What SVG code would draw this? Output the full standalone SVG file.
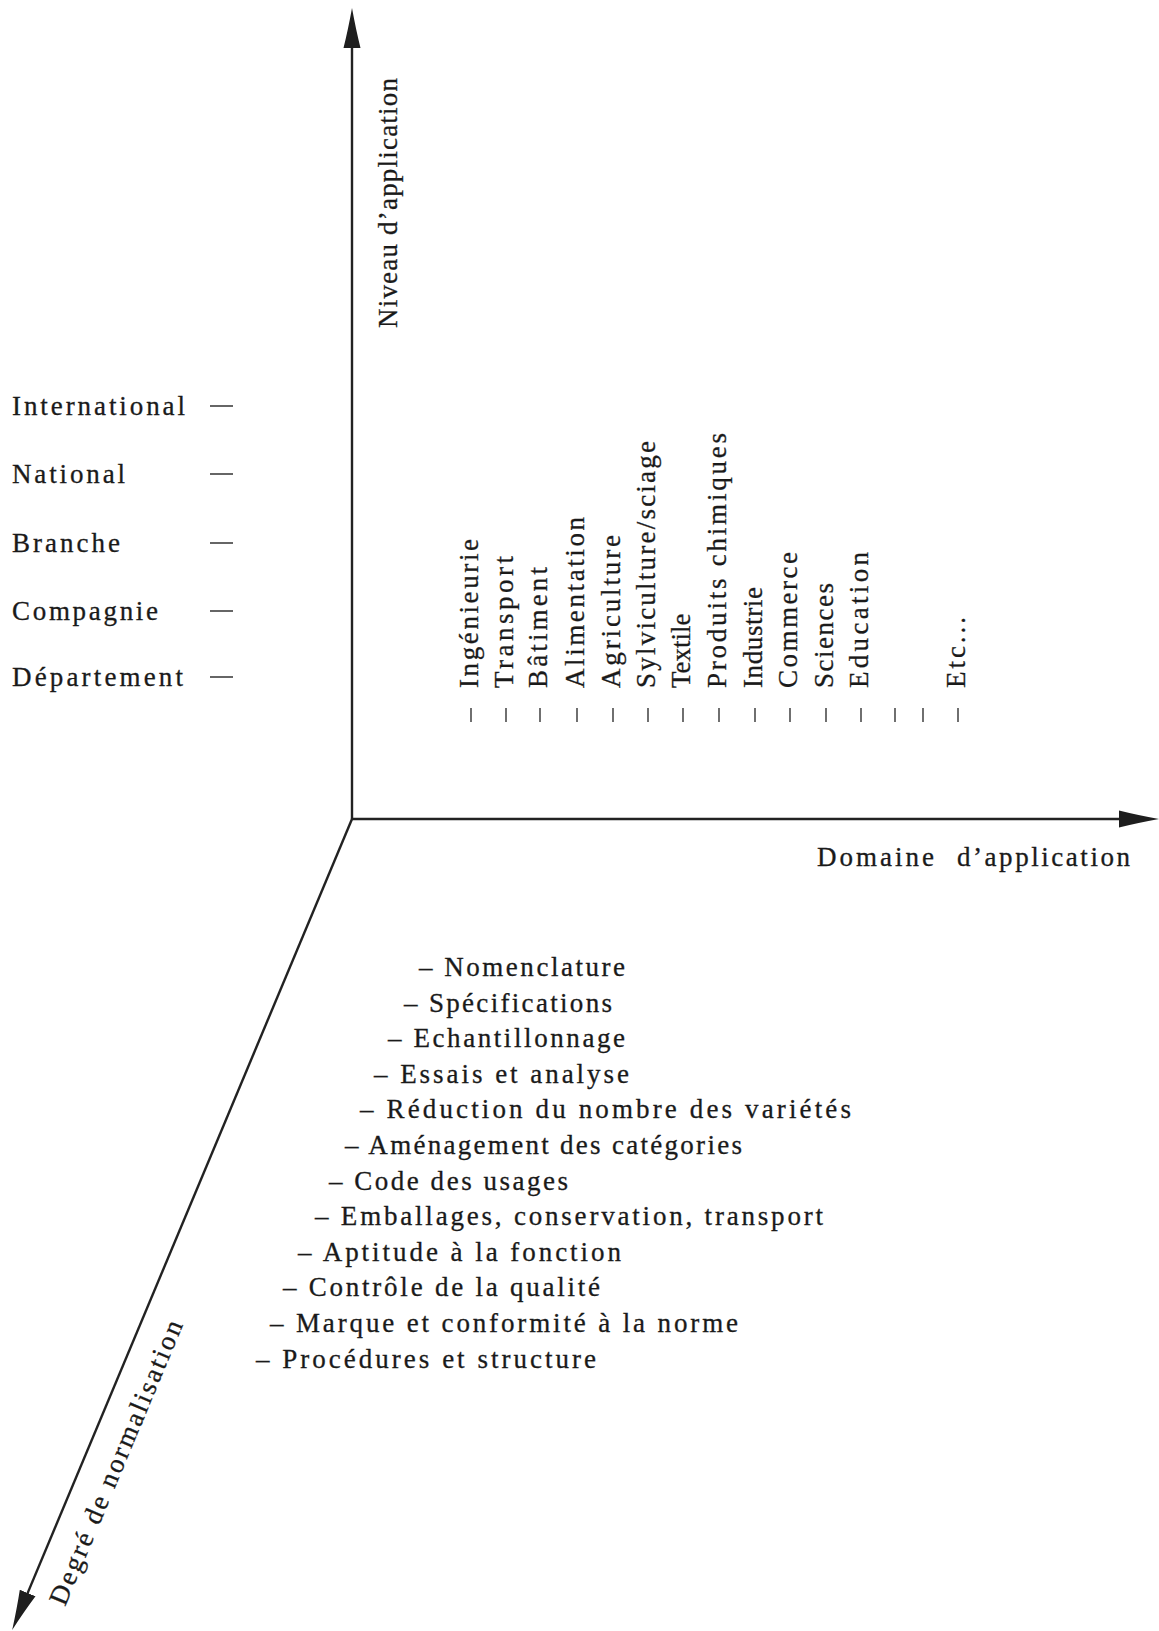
<svg xmlns="http://www.w3.org/2000/svg" width="1159" height="1631" viewBox="0 0 1159 1631">
<defs>
<marker id="arrow" markerUnits="userSpaceOnUse" markerWidth="42" markerHeight="20" refX="18" refY="10" orient="auto">
<path d="M0,1.5 Q18,6 40,10 Q18,14 0,18.5 Z" fill="#1e1e1e"/>
</marker>
<style>
text { font-family: "Liberation Serif", "DejaVu Serif", serif; font-size: 27px; fill: #1a1a1a; stroke: #1a1a1a; stroke-width: 0.3; }
.axis { stroke: #222; stroke-width: 2.4; fill: none; }
.tick { stroke: #333; stroke-width: 1.4; }
.dash { stroke: #333; stroke-width: 1.5; }
</style>
</defs>
<rect width="1159" height="1631" fill="#fff"/>

<g id="connectors">
<line class="axis" x1="352" y1="819" x2="352" y2="30" marker-end="url(#arrow)"/>
<line class="axis" x1="352" y1="819" x2="1137" y2="819" marker-end="url(#arrow)"/>
<line class="axis" x1="352" y1="819" x2="20.7" y2="1609.6" marker-end="url(#arrow)"/>
</g>

<g id="axis-title-niveau"><text transform="translate(397,328) rotate(-90)" textLength="250" lengthAdjust="spacing">Niveau d’application</text></g>
<g id="axis-title-domaine"><text x="817" y="866"><tspan x="817" textLength="117" lengthAdjust="spacing">Domaine</tspan><tspan x="957" textLength="173" lengthAdjust="spacing">d’application</tspan></text></g>
<g id="axis-title-degre"><text transform="translate(65,1607) rotate(-67.27)" textLength="306" lengthAdjust="spacing">Degré de normalisation</text></g>

<g id="level-international"><text x="12" y="415" textLength="173" lengthAdjust="spacing">International</text><line class="dash" x1="210" y1="406" x2="233" y2="406"/></g>
<g id="level-national"><text x="12" y="483" textLength="113" lengthAdjust="spacing">National</text><line class="dash" x1="210" y1="474" x2="233" y2="474"/></g>
<g id="level-branche"><text x="12" y="552" textLength="108" lengthAdjust="spacing">Branche</text><line class="dash" x1="210" y1="543" x2="233" y2="543"/></g>
<g id="level-compagnie"><text x="12" y="620" textLength="146" lengthAdjust="spacing">Compagnie</text><line class="dash" x1="210" y1="611" x2="233" y2="611"/></g>
<g id="level-departement"><text x="12" y="686" textLength="171" lengthAdjust="spacing">Département</text><line class="dash" x1="210" y1="677" x2="233" y2="677"/></g>

<g id="dom-ingenieurie"><text transform="translate(478,688) rotate(-90)" textLength="149" lengthAdjust="spacing">Ingénieurie</text><line class="tick" x1="471" y1="708" x2="471" y2="722"/></g>
<g id="dom-transport"><text transform="translate(513,688) rotate(-90)" textLength="132" lengthAdjust="spacing">Transport</text><line class="tick" x1="506" y1="708" x2="506" y2="722"/></g>
<g id="dom-batiment"><text transform="translate(547,688) rotate(-90)" textLength="121" lengthAdjust="spacing">Bâtiment</text><line class="tick" x1="540" y1="708" x2="540" y2="722"/></g>
<g id="dom-alimentation"><text transform="translate(584,688) rotate(-90)" textLength="171" lengthAdjust="spacing">Alimentation</text><line class="tick" x1="577" y1="708" x2="577" y2="722"/></g>
<g id="dom-agriculture"><text transform="translate(620,688) rotate(-90)" textLength="153" lengthAdjust="spacing">Agriculture</text><line class="tick" x1="613" y1="708" x2="613" y2="722"/></g>
<g id="dom-sylviculture"><text transform="translate(655,688) rotate(-90)" textLength="247" lengthAdjust="spacing">Sylviculture/sciage</text><line class="tick" x1="648" y1="708" x2="648" y2="722"/></g>
<g id="dom-textile"><text transform="translate(690,688) rotate(-90)">Textile</text><line class="tick" x1="683" y1="708" x2="683" y2="722"/></g>
<g id="dom-produits"><text transform="translate(726,688) rotate(-90)" textLength="255" lengthAdjust="spacing">Produits chimiques</text><line class="tick" x1="719" y1="708" x2="719" y2="722"/></g>
<g id="dom-industrie"><text transform="translate(762,688) rotate(-90)" textLength="101" lengthAdjust="spacing">Industrie</text><line class="tick" x1="755" y1="708" x2="755" y2="722"/></g>
<g id="dom-commerce"><text transform="translate(797,688) rotate(-90)" textLength="136" lengthAdjust="spacing">Commerce</text><line class="tick" x1="790" y1="708" x2="790" y2="722"/></g>
<g id="dom-sciences"><text transform="translate(833,688) rotate(-90)" textLength="105" lengthAdjust="spacing">Sciences</text><line class="tick" x1="826" y1="708" x2="826" y2="722"/></g>
<g id="dom-education"><text transform="translate(868,688) rotate(-90)" textLength="136" lengthAdjust="spacing">Education</text><line class="tick" x1="861" y1="708" x2="861" y2="722"/></g>
<g id="dom-blank"><line class="tick" x1="895" y1="708" x2="895" y2="722"/><line class="tick" x1="923" y1="708" x2="923" y2="722"/></g>
<g id="dom-etc"><text transform="translate(965,688) rotate(-90)" textLength="71" lengthAdjust="spacing">Etc...</text><line class="tick" x1="958" y1="708" x2="958" y2="722"/></g>

<g id="deg-1"><text x="419" y="976" textLength="206" lengthAdjust="spacing">– Nomenclature</text></g>
<g id="deg-2"><text x="404" y="1011.6" textLength="208" lengthAdjust="spacing">– Spécifications</text></g>
<g id="deg-3"><text x="388" y="1047.2" textLength="237" lengthAdjust="spacing">– Echantillonnage</text></g>
<g id="deg-4"><text x="374" y="1082.8" textLength="255" lengthAdjust="spacing">– Essais et analyse</text></g>
<g id="deg-5"><text x="360" y="1118.4" textLength="491" lengthAdjust="spacing">– Réduction du nombre des variétés</text></g>
<g id="deg-6"><text x="345" y="1154" textLength="397" lengthAdjust="spacing">– Aménagement des catégories</text></g>
<g id="deg-7"><text x="329" y="1189.6" textLength="239" lengthAdjust="spacing">– Code des usages</text></g>
<g id="deg-8"><text x="315" y="1225.2" textLength="508" lengthAdjust="spacing">– Emballages, conservation, transport</text></g>
<g id="deg-9"><text x="298" y="1260.8" textLength="323" lengthAdjust="spacing">– Aptitude à la fonction</text></g>
<g id="deg-10"><text x="283" y="1296.4" textLength="317" lengthAdjust="spacing">– Contrôle de la qualité</text></g>
<g id="deg-11"><text x="270" y="1332" textLength="468" lengthAdjust="spacing">– Marque et conformité à la norme</text></g>
<g id="deg-12"><text x="256" y="1367.6" textLength="340" lengthAdjust="spacing">– Procédures et structure</text></g>
</svg>
